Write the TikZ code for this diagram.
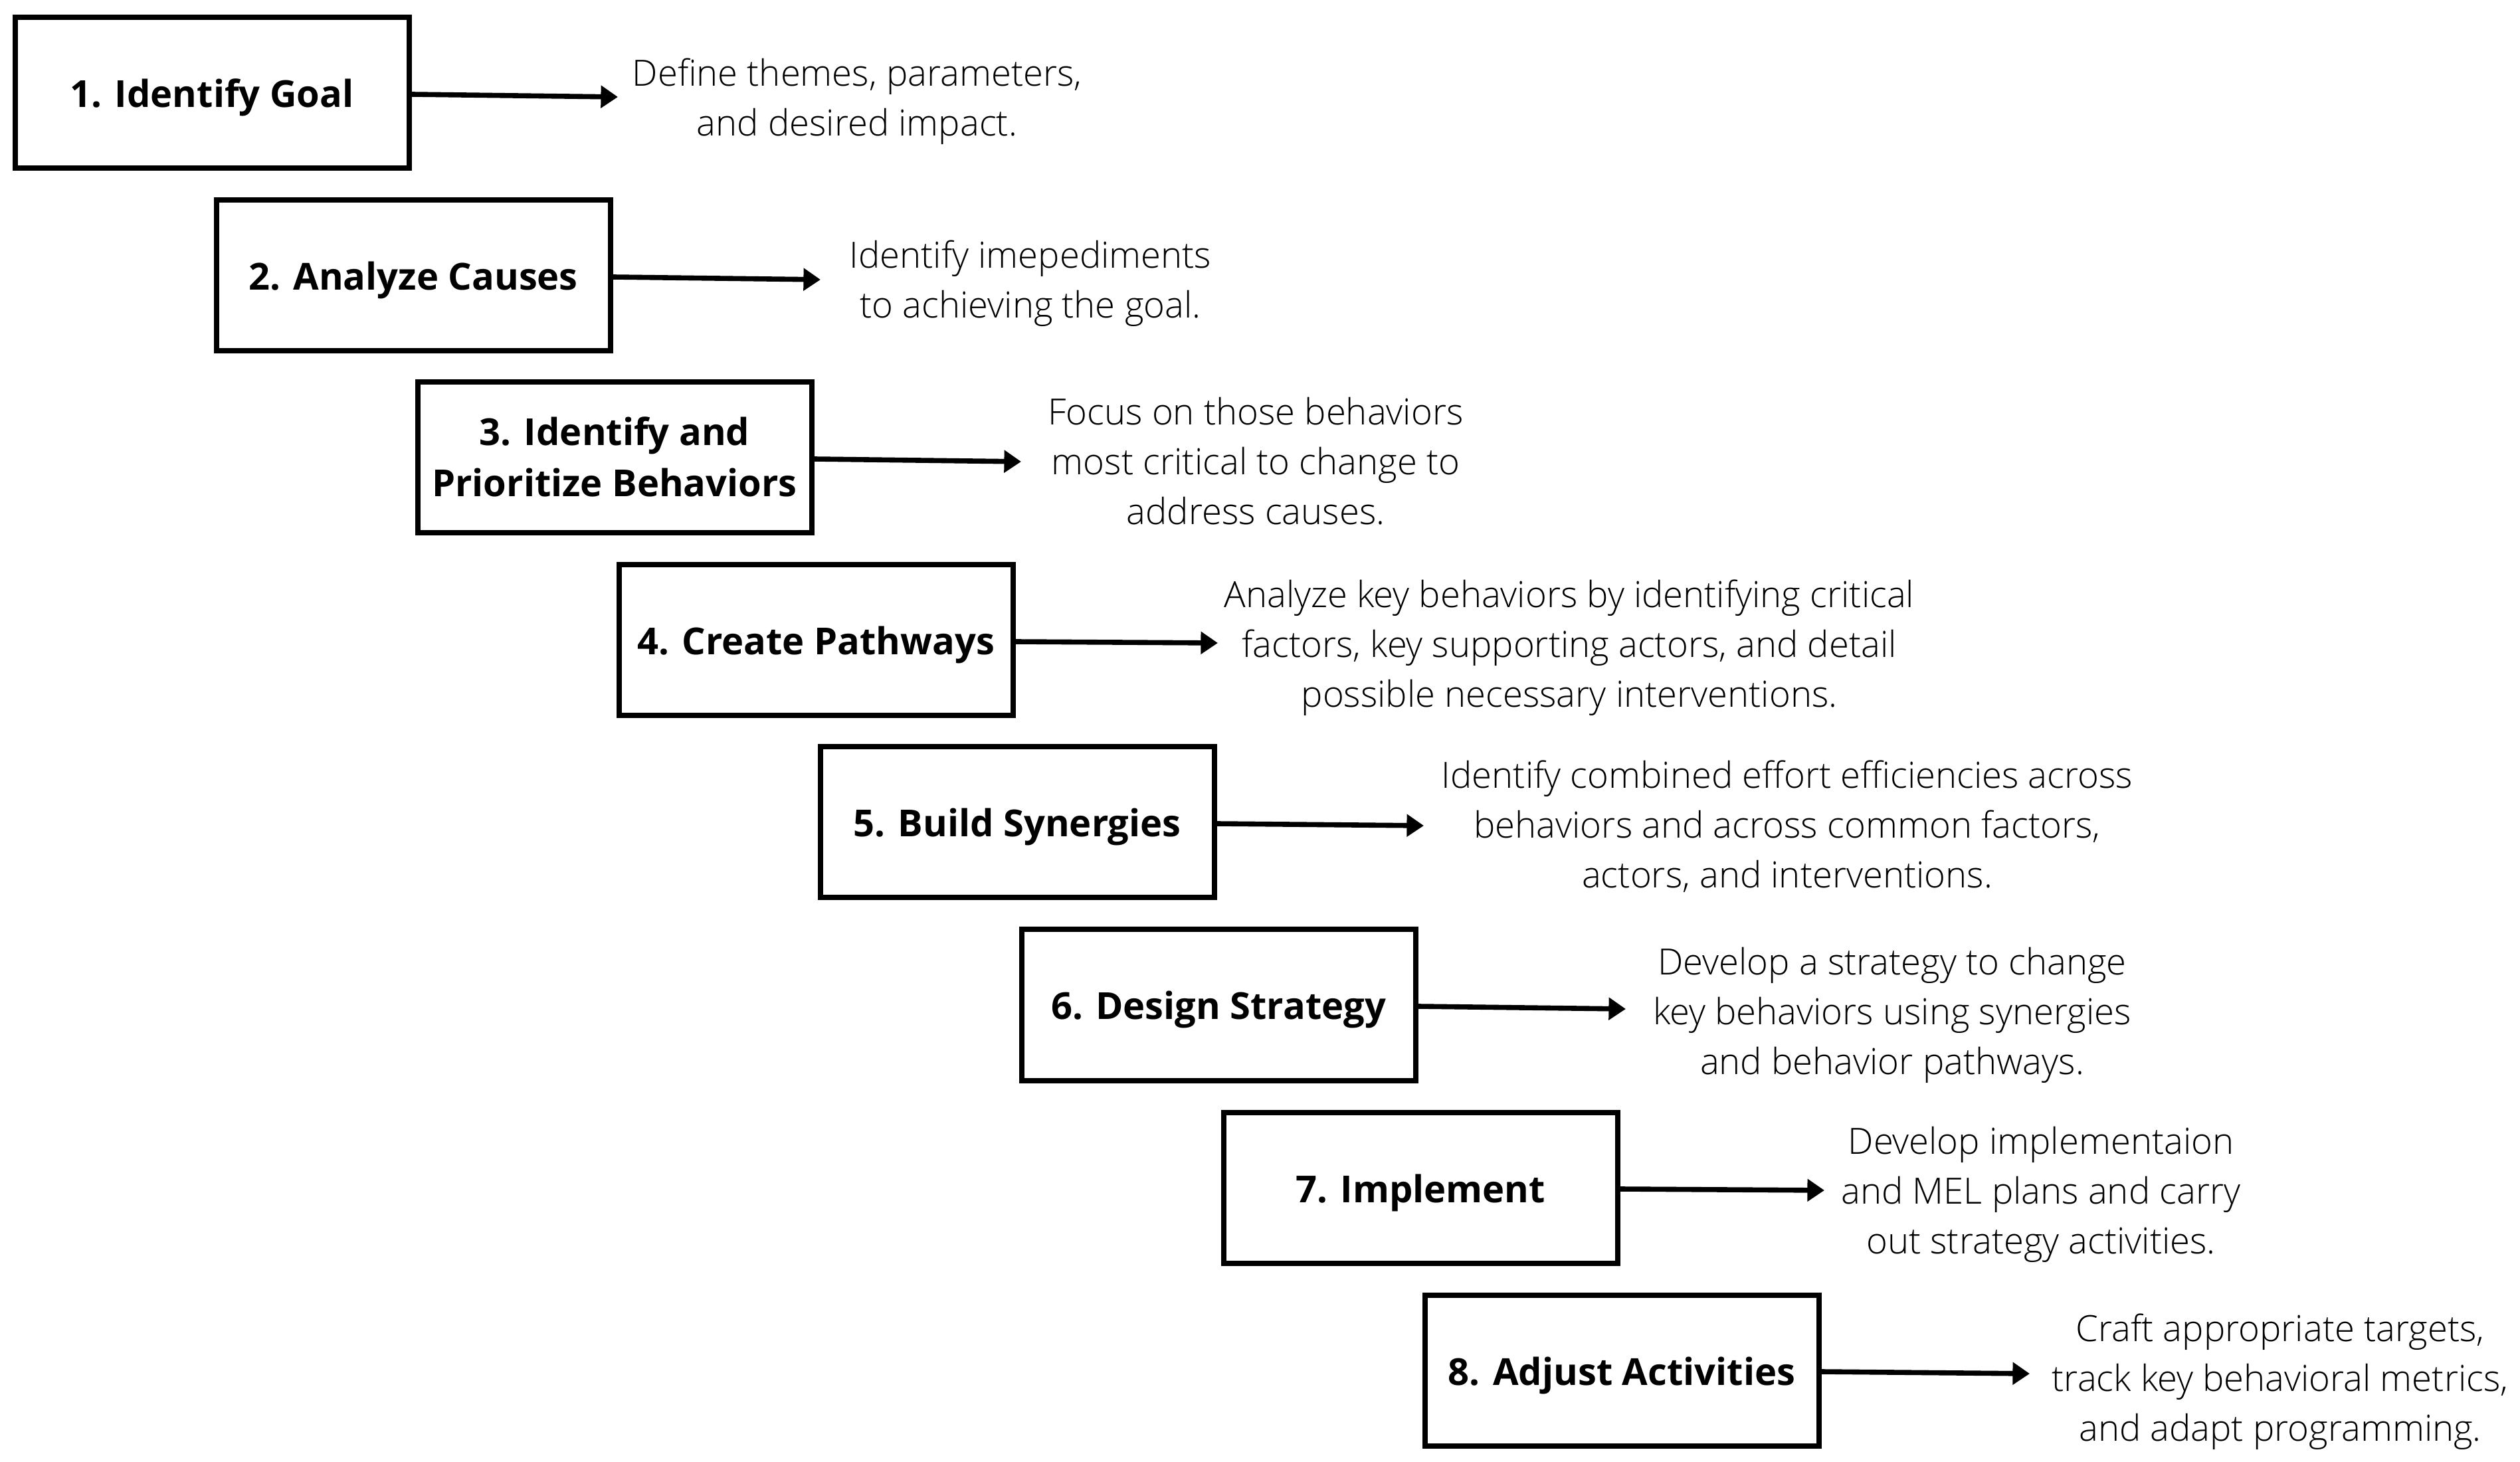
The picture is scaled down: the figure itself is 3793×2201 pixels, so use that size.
\documentclass[tikz,border=0pt]{standalone}
\usepackage{fontspec}
\setmainfont{Open Sans}
\newfontfamily\lightfont{Open Sans Light}
\usetikzlibrary{arrows.meta}
\tikzset{
  stepbox/.style={draw=black, line width=2pt, fill=white, minimum width=593*0.25pt, minimum height=227*0.25pt, inner sep=0pt},
  lbl/.style={font=\bfseries\fontsize{14pt}{19.25pt}\selectfont, align=center, anchor=base},
  desc/.style={font=\lightfont\fontsize{13.6pt}{18.75pt}\selectfont, align=center, anchor=base, inner sep=0pt},
  conn/.style={line width=1.9pt, -{Triangle[length=6.4pt,width=8.2pt]}}
}
\begin{document}
\begin{tikzpicture}[x=0.25pt,y=-0.25pt]
\useasboundingbox (0,0) rectangle (3793,2201);
% boxes
\node[stepbox] (b1) at (319,140) {};
\node[stepbox] (b2) at (622,415) {};
\node[stepbox] (b3) at (925,689) {};
\node[stepbox] (b4) at (1228,964) {};
\node[stepbox] (b5) at (1531,1238) {};
\node[stepbox] (b6) at (1834,1513) {};
\node[stepbox] (b7) at (2138,1788) {};
\node[stepbox] (b8) at (2441,2063) {};
% labels
\node[lbl] (l1) at ([yshift=-5.5pt]b1.center) {1. Identify Goal};
\node[lbl] (l2) at ([yshift=-5.5pt]b2.center) {2. Analyze Causes};
\node[lbl] (l3) at ([yshift=-14.75pt]b3.center) {3. Identify and\\Prioritize Behaviors};
\node[lbl] (l4) at ([yshift=-5.5pt]b4.center) {4. Create Pathways};
\node[lbl] (l5) at ([yshift=-5.5pt]b5.center) {5. Build Synergies};
\node[lbl] (l6) at ([yshift=-5.5pt]b6.center) {6. Design Strategy};
\node[lbl] (l7) at ([yshift=-5.5pt]b7.center) {7. Implement};
\node[lbl] (l8) at ([yshift=-5.5pt]b8.center) {8. Adjust Activities};
% arrow tips
\coordinate (t1) at (930,146);
\coordinate (t2) at (1235,421);
\coordinate (t3) at (1537,695);
\coordinate (t4) at (1833,968);
\coordinate (t5) at (2143,1243);
\coordinate (t6) at (2447,1519);
\coordinate (t7) at (2746,1792);
\coordinate (t8) at (3055,2068);
\foreach \i in {1,...,8}{
  \draw[conn] ([yshift=-0.5pt]b\i.east) -- (t\i);
}
% descriptions (anchored at the baseline of the last line)
\node[desc] (d1) at (1290,205) {Define themes, parameters,\\and desired impact.};
\node[desc] (d2) at (1551,479) {Identify imepediments\\to achieving the goal.};
\node[desc] (d3) at (1890,790) {Focus on those behaviors\\most critical to change to\\address causes.};
\node[desc] (d4) at (2362,1065) {Analyze key behaviors by identifying critical\\factors, key supporting actors, and detail\\possible necessary interventions.};
\node[desc] (d5) at (2690,1337) {Identify combined effort efficiencies across\\behaviors and across common factors,\\actors, and interventions.};
\node[desc] (d6) at (2848,1617) {Develop a strategy to change\\key behaviors using synergies\\and behavior pathways.};
\node[desc] (d7) at (3072,1887) {Develop implementaion\\and MEL plans and carry\\out strategy activities.};
\node[desc] (d8) at (3432,2169) {Craft appropriate targets,\\track key behavioral metrics,\\and adapt programming.};
\end{tikzpicture}
\end{document}
